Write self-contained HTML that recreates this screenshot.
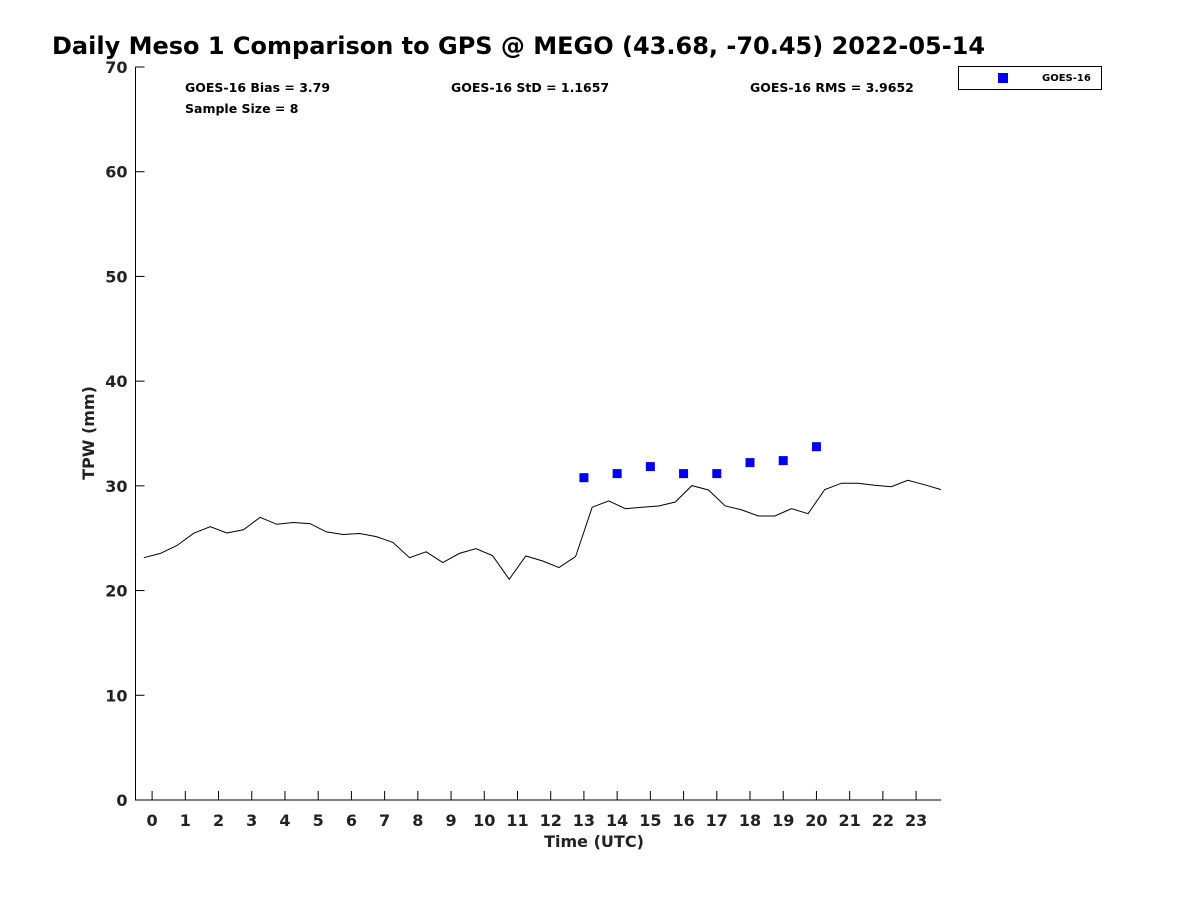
<!DOCTYPE html>
<html><head><meta charset="utf-8"><style>
body{margin:0;background:#fff;}
svg text{font-family:"DejaVu Sans","Liberation Sans",sans-serif;font-weight:bold;}
</style></head><body>
<svg width="1200" height="900" viewBox="0 0 1200 900" xmlns="http://www.w3.org/2000/svg">
<rect width="1200" height="900" fill="#fff"/>
<text x="52" y="54" font-size="24" fill="#000">Daily Meso 1 Comparison to GPS @ MEGO (43.68, -70.45) 2022-05-14</text>
<g id="axes"></g>
<g id="marks"></g>
<text x="185" y="92" font-size="12.5" fill="#000">GOES-16 Bias = 3.79</text>
<text x="185" y="113" font-size="12.5" fill="#000">Sample Size = 8</text>
<text x="451" y="92" font-size="12.5" fill="#000">GOES-16 StD = 1.1657</text>
<text x="750" y="92" font-size="12.5" fill="#000">GOES-16 RMS = 3.9652</text>
<g>
<rect x="958.5" y="66.5" width="143" height="23" fill="#fff" stroke="#000" stroke-width="1"/>
<rect x="998" y="73" width="10" height="10" fill="#0000ee"/>
<text x="1042" y="81" font-size="10" fill="#000">GOES-16</text>
</g>
<text x="594" y="847" font-size="16" fill="#222" text-anchor="middle">Time (UTC)</text>
<text transform="translate(94,433) rotate(-90)" font-size="16" fill="#222" text-anchor="middle">TPW (mm)</text>
</svg>
<script>
const gpsValues=[23.14,23.55,24.3,25.47,26.1,25.5,25.8,27.0,26.33,26.5,26.4,25.6,25.35,25.45,25.15,24.6,23.14,23.7,22.67,23.55,24.0,23.33,21.08,23.3,22.83,22.19,23.24,27.96,28.56,27.82,27.96,28.08,28.46,30.02,29.6,28.1,27.7,27.12,27.12,27.82,27.34,29.64,30.25,30.25,30.06,29.92,30.53,30.11,29.64];
const gpsStart=-0.25;
const gpsStep=0.5;
const goesHours=[13,14,15,16,17,18,19,20];
const goesValues=[30.78,31.17,31.84,31.17,31.17,32.22,32.41,33.74];
const xTicks=[0,1,2,3,4,5,6,7,8,9,10,11,12,13,14,15,16,17,18,19,20,21,22,23];
const yTicks=[0,10,20,30,40,50,60,70];
const X0=135.5,X1=941,Y0=800,Y1=67,xMin=-0.5,xMax=23.75,yMin=0,yMax=70;
const xs=v=>X0+(v-xMin)/(xMax-xMin)*(X1-X0);
const ys=v=>Y0-(v-yMin)/(yMax-yMin)*(Y0-Y1);
const NS='http://www.w3.org/2000/svg';
const axes=document.getElementById('axes'),marks=document.getElementById('marks');
function mk(t,a,p){const e=document.createElementNS(NS,t);for(const k in a)e.setAttribute(k,a[k]);p.appendChild(e);return e;}
const ax=mk('path',{d:`M${X0},${Y1}V${Y0}H${X1}`,fill:'none',stroke:'#000','stroke-width':1},axes);


xTicks.forEach(t=>{const x=xs(t);
const l=mk('line',{x1:x,x2:x,y1:Y0,y2:Y0-9,stroke:'#000'},axes);


const tx=mk('text',{x:x,y:Y0+26,'font-size':16,fill:'#222','text-anchor':'middle'},axes);tx.textContent=t;

});
yTicks.forEach(t=>{const y=ys(t);
const l=mk('line',{x1:X0,x2:X0+9,y1:y,y2:y,stroke:'#000'},axes);


const tx=mk('text',{x:X0-8,y:y+6,'font-size':16,fill:'#222','text-anchor':'end'},axes);tx.textContent=t;

});
const pts=gpsValues.map((v,i)=>xs(gpsStart+i*gpsStep).toFixed(1)+','+ys(v).toFixed(1)).join(' ');
const pl=mk('polyline',{points:pts,fill:'none',stroke:'#000','stroke-width':1},marks);


goesHours.forEach((h,i)=>{const r=mk('rect',{x:xs(h)-4.5,y:ys(goesValues[i])-4.5,width:9,height:9,fill:'#0000ee'},marks);

});
</script>
</body></html>
